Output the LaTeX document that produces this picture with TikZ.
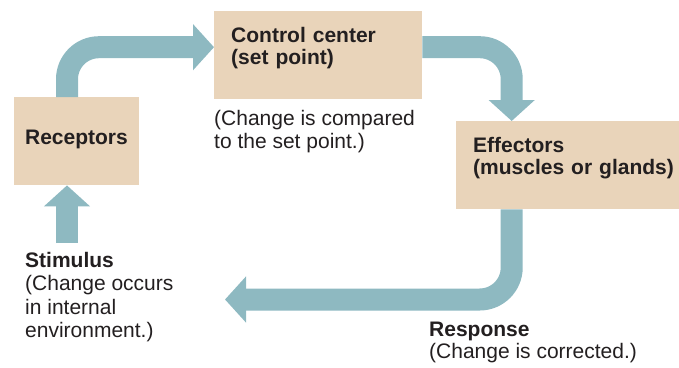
\documentclass[tikz,border=0pt]{standalone}
\usepackage{fontspec}
\setmainfont{Liberation Sans}
\usepackage{tikz}
\usetikzlibrary{arrows.meta}
\definecolor{boxfill}{RGB}{233,212,186}
\definecolor{loopcol}{RGB}{142,185,193}
\definecolor{ink}{RGB}{35,31,32}

\begin{document}
\begin{tikzpicture}[
  x=1pt,y=-1pt,
  font=\fontsize{21}{22.5}\selectfont,
  every node/.style={align=left,text=ink},
  block/.style={fill=boxfill,inner xsep=17pt,inner ysep=0pt,text height=31pt,text depth=57pt,font=\fontsize{21}{22.5}\selectfont\bfseries},
  note/.style={anchor=north west,inner sep=0pt},
  fatarrow/.style={-{Triangle[length=21pt,width=45pt]},line width=22pt,draw=loopcol,rounded corners=32pt}]

  \useasboundingbox (0,0) rectangle (679,367);

  % Position the boxes and the notes at their places
  \node[block,anchor=north,minimum width=125pt,inner xsep=0pt,text height=47pt,text depth=41pt,align=center] (REC) at (76.5,97) {Receptors};
  \node[block,anchor=north west,text width=174pt] (CTRL) at (214,11) {Control center\\(set point)};
  \node[block,anchor=north west,text width=189pt] (EFF) at (456,121) {Effectors\\(muscles~or~glands)};
  \node[note] (CMP) at (214,110.5) {(Change is compared\\to the set point.)};
  \node[note,font=\fontsize{21}{23.5}\selectfont] (STIM) at (25,252) {\textbf{Stimulus}\\(Change occurs\\in internal\\environment.)};
  \node[note] (RESP) at (429,321.5) {\textbf{Response}\\(Change is corrected.)};
  \coordinate (STIMIN) at (67,243);
  \coordinate (RESPOUT) at (225,299.5);

  % Draw the fat arrows round the loop
  \draw[fatarrow] ([xshift=-9.5pt]REC.north) |- ([yshift=8pt]CTRL.west);
  \draw[fatarrow] ([yshift=8pt]CTRL.east) -| ([xshift=-56pt]EFF.north);
  \draw[fatarrow] ([xshift=-56pt]EFF.south) |- (RESPOUT);
  \draw[fatarrow] (STIMIN) -- ([xshift=-9.5pt]REC.south);
\end{tikzpicture}
\end{document}
